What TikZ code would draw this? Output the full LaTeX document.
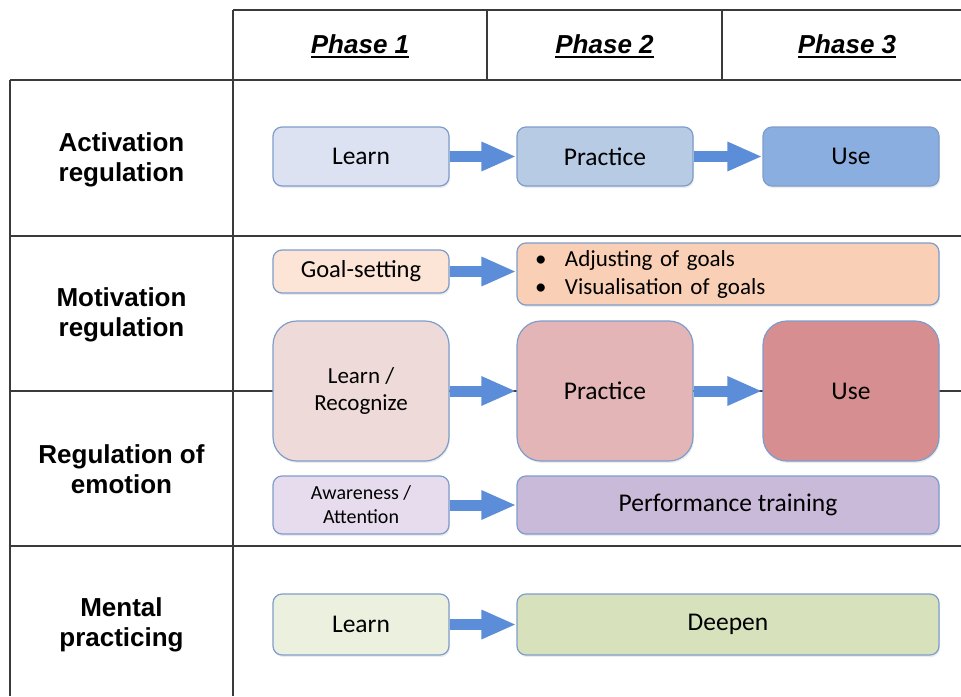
\documentclass[tikz,border=0pt]{standalone}
\usepackage{fontspec}
\setmainfont{Carlito}
\newfontfamily\arialfont{Liberation Sans}
\newcommand\phul[1]{\setbox0\hbox{#1}\rlap{\copy0}\rule[-4.2pt]{\wd0}{1.8pt}}
\usetikzlibrary{arrows.meta,shadows}
\definecolor{gridcol}{HTML}{3A3A3A}
\definecolor{bordercol}{HTML}{7E9DCB}
\definecolor{arrowcol}{HTML}{5C8DD9}
\definecolor{cLearnA}{HTML}{DCE2F1}
\definecolor{cPracA}{HTML}{B7CBE5}
\definecolor{cUseA}{HTML}{8AAEE0}
\definecolor{cGoal}{HTML}{FCE4D6}
\definecolor{cAdj}{HTML}{F9D0B5}
\definecolor{cLR}{HTML}{EFDADA}
\definecolor{cPracB}{HTML}{E4B5B6}
\definecolor{cUseB}{HTML}{D68E90}
\definecolor{cAware}{HTML}{E6DCEE}
\definecolor{cPerf}{HTML}{CABAD9}
\definecolor{cLearnD}{HTML}{EBF1DE}
\definecolor{cDeep}{HTML}{D7E2BD}
\tikzset{
  grid line/.style={draw=gridcol, line width=1.4pt},
  box/.style={draw=bordercol, line width=1.2pt, rounded corners=9pt, align=center,
    inner sep=0pt, font=\fontsize{25.5}{30}\selectfont,
    drop shadow={opacity=0.15, shadow xshift=1pt, shadow yshift=-2pt}},
  bigbox/.style={box, rounded corners=24pt},
  rowlab/.style={font=\arialfont\bfseries\fontsize{26}{30}\selectfont, align=center},
  phaselab/.style={font=\arialfont\bfseries\itshape\fontsize{26}{30}\selectfont},
  flow/.style={draw=arrowcol, line width=11pt, -{Triangle[length=35pt,width=27pt]}}
}
\begin{document}
\begin{tikzpicture}[x=1pt,y=-1pt]
\useasboundingbox (0,0) rectangle (961,696);
% grid
\draw[grid line] (233,10) -- (961,10);
\draw[grid line] (233,10) -- (233,696);
\draw[grid line] (487,10) -- (487,80);
\draw[grid line] (722,10) -- (722,80);
\draw[grid line] (10,80) -- (961,80);
\draw[grid line] (10,80) -- (10,696);
\draw[grid line] (10,236) -- (961,236);
\draw[grid line] (10,391) -- (961,391);
\draw[grid line] (10,546) -- (961,546);
% header
\node[phaselab] (p1) at (360,46) {\phul{Phase 1}};
\node[phaselab] (p2) at (604.5,46) {\phul{Phase 2}};
\node[phaselab] (p3) at (847,46) {\phul{Phase 3}};
% row labels
\node[rowlab] (l1) at (121.5,160) {Activation\\regulation};
\node[rowlab] (l2) at (121.5,315) {Motivation\\regulation};
\node[rowlab] (l3) at (121.5,469) {Regulation of\\emotion};
\node[rowlab] (l4) at (121.5,625) {Mental\\practicing};
% row 1
\node[box, fill=cLearnA, minimum width=176pt, minimum height=59pt] (a1) at (361,156.5) {Learn};
\node[box, fill=cPracA, minimum width=176pt, minimum height=59pt] (a2) at (605,156.5) {Practice};
\node[box, fill=cUseA, minimum width=176pt, minimum height=59pt] (a3) at (851,156.5) {Use};
% motivation
\node[box, fill=cGoal, minimum width=176pt, minimum height=43pt, font=\fontsize{24.5}{28}\selectfont] (g1) at (361,271.5) {Goal-setting};
\node[box, fill=cAdj, minimum width=422pt, minimum height=62pt, text width=386pt, align=left,
  font=\fontsize{23}{28}\selectfont] (g2) at (728,274)
  {\makebox[30pt][l]{\textbullet}Adjusting of goals\\\makebox[30pt][l]{\textbullet}Visualisation of goals};
\node[bigbox, fill=cLR, minimum width=176pt, minimum height=140pt, font=\fontsize{23}{27}\selectfont] (b1) at (361,391) {Learn /\\Recognize};
\node[bigbox, fill=cPracB, minimum width=176pt, minimum height=140pt] (b2) at (605,391) {Practice};
\node[bigbox, fill=cUseB, minimum width=176pt, minimum height=140pt] (b3) at (851,391) {Use};
% emotion
\node[box, fill=cAware, minimum width=176pt, minimum height=58pt, font=\fontsize{20}{24}\selectfont] (e1) at (361,505) {Awareness /\\Attention};
\node[box, fill=cPerf, minimum width=422pt, minimum height=58pt] (e2) at (728,505) {Performance training};
% mental practicing
\node[box, fill=cLearnD, minimum width=176pt, minimum height=61pt] (d1) at (361,624.5) {Learn};
\node[box, fill=cDeep, minimum width=422pt, minimum height=61pt] (d2) at (728,624.5) {Deepen};
% arrows
\draw[flow] (a1.east) -- (a2.west);
\draw[flow] (a2.east) -- (a3.west);
\draw[flow] (g1.east) -- (g1.east -| g2.west);
\draw[flow] (b1.east) -- (b2.west);
\draw[flow] (b2.east) -- (b3.west);
\draw[flow] (e1.east) -- (e2.west);
\draw[flow] (d1.east) -- (d2.west);
\end{tikzpicture}
\end{document}
